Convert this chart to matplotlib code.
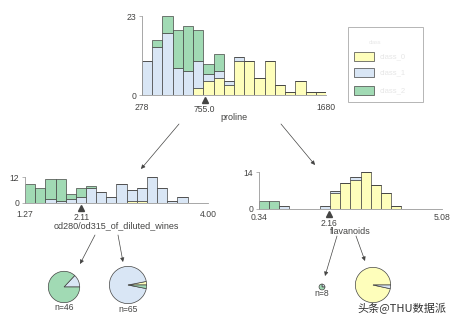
import numpy as np
import matplotlib.pyplot as plt
from matplotlib.patches import Rectangle
from matplotlib.transforms import ScaledTranslation

# Цвета классов и общий цвет текста
class_colors = ['#FEFEBB', '#D9E6F5', '#a1dab4']
class_names = ['class_0', 'class_1', 'class_2']
text_color = '#444443'
W, H = 460, 323

# Корневой узел: proline (18 интервалов)
proline_range = (278, 1680)
proline_split = 755.0
proline_counts = [
    [0, 0, 0, 0, 0, 2, 4, 5, 3, 10, 10, 5, 10, 3, 1, 4, 1, 1],
    [10, 14, 18, 8, 7, 8, 2, 2, 1, 1, 0, 0, 0, 0, 0, 0, 0, 0],
    [0, 2, 5, 11, 13, 9, 3, 5, 0, 0, 0, 0, 0, 0, 0, 0, 0, 0],
]

# Левый узел: od280/od315_of_diluted_wines
od280_range = (1.27, 4.00)
od280_split = 2.11
od280_counts = [
    [0, 0, 0, 0, 0, 0, 0, 0, 0, 0, 1, 1, 0, 0, 0, 0, 0, 0],
    [0, 0, 2, 1, 2, 3, 7, 5, 3, 9, 5, 6, 12, 7, 1, 3, 0, 0],
    [9, 7, 9, 10, 2, 4, 1, 0, 0, 0, 0, 0, 0, 0, 0, 0, 0, 0],
]

# Правый узел: flavanoids
flav_range = (0.34, 5.08)
flav_split = 2.16
flav_counts = [
    [0, 0, 0, 0, 0, 0, 0, 6, 10, 11, 14, 9, 6, 1, 0, 0, 0, 0],
    [0, 0, 1, 0, 0, 0, 1, 1, 0, 1, 0, 0, 0, 0, 0, 0, 0, 0],
    [3, 3, 0, 0, 0, 0, 0, 0, 0, 0, 0, 0, 0, 0, 0, 0, 0, 0],
]

# Листья: количество объектов каждого класса
leaf_counts = [[0, 6, 40], [2, 61, 2], [0, 2, 6], [57, 2, 0]]
leaf_labels = ['n=46', 'n=65', 'n=8', None]

fig = plt.figure(figsize=(W / 100, H / 100), dpi=100)
plt.rcParams['font.family'] = ['Liberation Sans', 'DejaVu Sans']


def px_axes(x0, y0, x1, y1):
    return fig.add_axes([x0 / W, 1 - y1 / H, (x1 - x0) / W, (y1 - y0) / H])


def split_hist(box, rng, split, counts, ymax, feature, tick_pad):
    ax = px_axes(*box)
    edges = np.linspace(rng[0], rng[1], len(counts[0]) + 1)
    bottom = np.zeros(len(counts[0]))
    for k, c in enumerate(counts):
        c = np.array(c)
        ax.bar(edges[:-1], c, width=np.diff(edges), bottom=bottom, align='edge',
               color=class_colors[k], edgecolor=text_color, linewidth=0.5)
        bottom += c
    ax.set_xlim(rng)
    ax.set_ylim(0, ymax)
    for s in ['top', 'right']:
        ax.spines[s].set_visible(False)
    for s in ['left', 'bottom']:
        ax.spines[s].set_color('#999999')
        ax.spines[s].set_linewidth(0.6)
    ax.set_yticks([0, ymax])
    ax.set_xticks(list(rng))
    ax.set_xticklabels([f'{v}' if isinstance(v, int) else f'{v:.2f}' for v in rng])
    ax.tick_params(axis='y', length=2.5, width=0.5, color='#999999', pad=1.5,
                   labelsize=6.2, labelcolor=text_color)
    ax.tick_params(axis='x', length=0, pad=tick_pad, labelsize=6.2, labelcolor=text_color)
    tr = ax.get_xaxis_transform() + ScaledTranslation(0, -3.4 / 72, fig.dpi_scale_trans)
    ax.plot([split], [0], marker='^', markersize=4.5, color=text_color,
            transform=tr, clip_on=False)
    tr2 = ax.get_xaxis_transform() + ScaledTranslation(0, -10.5 / 72, fig.dpi_scale_trans)
    lab = f'{split:.1f}' if split > 100 else f'{split:.2f}'
    ax.text(split, 0, lab, transform=tr2, ha='center', va='center',
            fontsize=6.2, color=text_color)
    tr3 = ax.get_xaxis_transform() + ScaledTranslation(0, -16.5 / 72, fig.dpi_scale_trans)
    ax.text(np.mean(rng), 0, feature, transform=tr3, ha='center', va='center',
            fontsize=6.5, color=text_color)
    return ax


split_hist((142, 16, 326, 95), proline_range, proline_split, proline_counts, 23, 'proline', 5.5)
split_hist((25, 177, 208, 203), od280_range, od280_split, od280_counts, 12,
           'od280/od315_of_diluted_wines', 5.0)
split_hist((259, 172, 442, 209), flav_range, flav_split, flav_counts, 14, 'flavanoids', 3.0)

# Листья-диаграммы
leaf_pos = [(64, 287), (128, 285), (322, 287), (373, 285)]
leaf_r = [16, 19, 3, 18]
for (cx, cy), r, cnt in zip(leaf_pos, leaf_r, leaf_counts):
    pax = px_axes(cx - r, cy - r, cx + r, cy + r)
    vals = [v for v in cnt if v > 0]
    cols = [class_colors[k] for k, v in enumerate(cnt) if v > 0]
    pax.pie(vals, colors=cols, startangle=0, counterclock=True,
            wedgeprops=dict(edgecolor=text_color, linewidth=0.5))
    pax.set_xlim(-1.02, 1.02)
    pax.set_ylim(-1.02, 1.02)
    pax.axis('off')

# Слой для стрелок, подписей и легенды
ov = fig.add_axes([0, 0, 1, 1], zorder=-1)
ov.set_xlim(0, W)
ov.set_ylim(H, 0)
ov.axis('off')

arrows = [((179, 124), (141, 169)), ((281, 124), (315, 165)),
          ((95, 235), (80, 264)), ((118, 235), (123, 262)),
          ((337, 236), (325, 276)), ((356, 236), (365, 261))]
for start, end in arrows:
    ov.annotate('', xy=end, xytext=start,
                arrowprops=dict(arrowstyle='-|>', color=text_color, lw=0.5,
                                mutation_scale=6, shrinkA=0, shrinkB=0))

label_pos = [(64, 307), (128, 310), (322, 293)]
for (x, y), lab in zip(label_pos, leaf_labels):
    ov.text(x, y, lab, ha='center', va='center', fontsize=6.2, color=text_color)

# Легенда (подписи почти не видны)
ov.add_patch(Rectangle((348, 27), 75, 75, facecolor='white', edgecolor='#aaaaaa', lw=0.6))
ov.text(375, 42, 'class', ha='center', va='center', fontsize=4, color='#e6e6e6')
for k, y in enumerate([52, 68, 86]):
    ov.add_patch(Rectangle((354, y), 20, 8.5, facecolor=class_colors[k],
                           edgecolor=text_color, lw=0.5))
    ov.text(380, y + 5, class_names[k], ha='left', va='center', fontsize=5.5, color='#e6e6e6')

# Водяной знак
ov.text(402, 308, '头条@THU数据派', ha='center', va='center', fontsize=8,
        color='#333333', family=['Noto Sans CJK SC', 'DejaVu Sans'])

fig.savefig('out.png', dpi=100)
